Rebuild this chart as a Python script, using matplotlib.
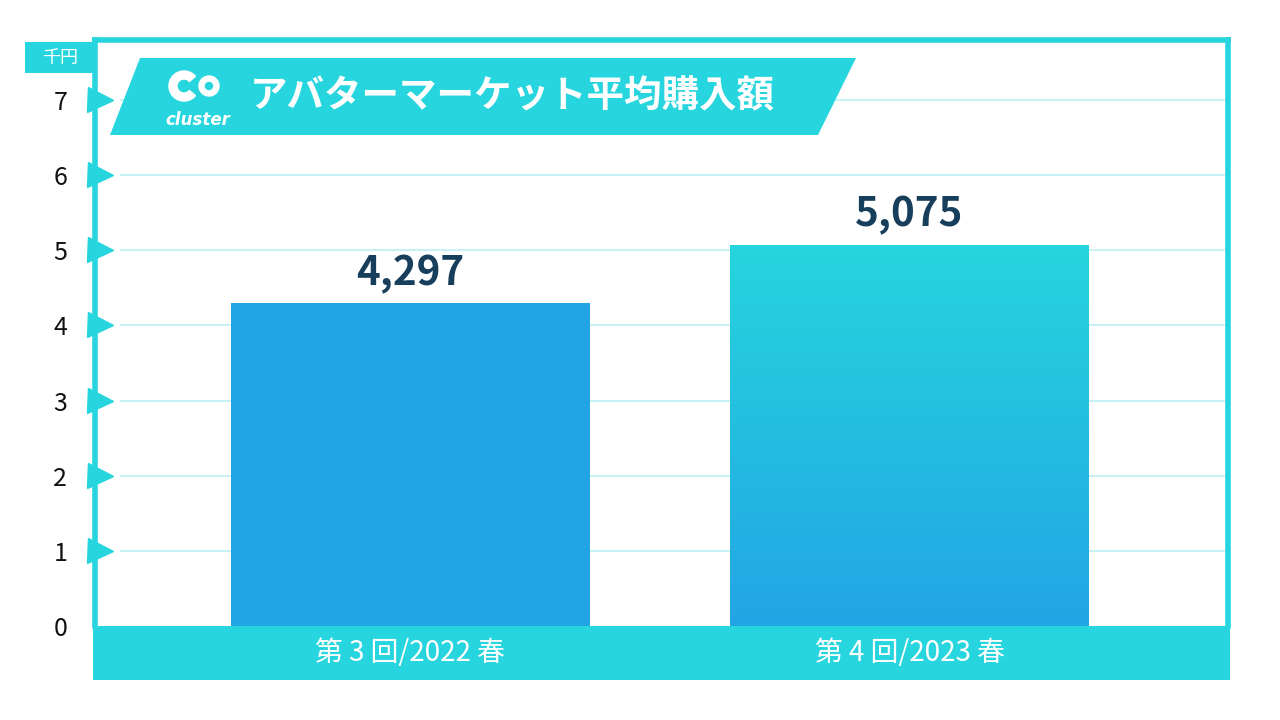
import numpy as np
import matplotlib
matplotlib.use('Agg')
import matplotlib.pyplot as plt
import matplotlib.patches as mpatches
import matplotlib.transforms as mtransforms

plt.rcParams['font.family'] = ['Noto Sans CJK JP', 'DejaVu Sans']

# data (thousand yen)
categories = ['第 3 回/2022 春', '第 4 回/2023 春']
values = [4.297, 5.075]
value_labels = ['4,297', '5,075']
yticks = [0, 1, 2, 3, 4, 5, 6, 7]
title = 'アバターマーケット平均購入額'
unit = '千円'

CYAN = '#26d5dd'
BLUE = '#22a5e5'
NAVY = '#173f5c'
GRID = '#bdeff3'

W, H = 1280, 720
fig = plt.figure(figsize=(12.8, 7.2), dpi=100)

def px(x0, y0, x1, y1):
    # pixel box (top-left origin) -> figure fraction rect
    return [x0 / W, 1 - y1 / H, (x1 - x0) / W, (y1 - y0) / H]

# main axes: frame from x=95..1228, y (data 0) at 626 px, top at 40 px
ax = fig.add_axes(px(95, 40, 1228, 626))
ymax = (626 - 40) / 75.14
ax.set_ylim(0, ymax)
xl = (95 - 410.5) / 499.0
xr = (1228 - 410.5) / 499.0
ax.set_xlim(xl, xr)
ax.spines['bottom'].set_visible(False)
for s in ['left', 'top', 'right']:
    ax.spines[s].set_color(CYAN)
    ax.spines[s].set_linewidth(4)
ax.set_xticks([])
ax.set_yticks(yticks)
ax.set_yticklabels([str(t) for t in yticks], fontsize=18, color='#111111')
ax.tick_params(axis='y', length=0, pad=20)

# gridlines
for t in yticks[1:]:
    ax.plot([xl + 26 / 499.0, xr - 4 / 499.0], [t, t], color=GRID, lw=1.2, zorder=1)

# bars
xs = np.arange(len(values))
bw = 359 / 499.0
ax.bar(xs[0], values[0], width=bw, color=BLUE, zorder=2)
bar2 = ax.bar(xs[1], values[1], width=bw, color=CYAN, zorder=2)[0]
grad = np.linspace(0, 1, 256).reshape(-1, 1)
cmap = matplotlib.colors.LinearSegmentedColormap.from_list('g', [BLUE, CYAN])
im = ax.imshow(grad, cmap=cmap, aspect='auto', origin='lower',
               extent=[xs[1] - bw / 2, xs[1] + bw / 2, 0, values[1]], zorder=3)
im.set_clip_path(bar2)
ax.set_xlim(xl, xr)
ax.set_ylim(0, ymax)

for x, v, lab in zip(xs, values, value_labels):
    ax.text(x, v + 0.12, lab, ha='center', va='bottom', fontsize=29,
            fontweight='bold', color=NAVY, zorder=4)

# tick triangles
tr = mtransforms.blended_transform_factory(ax.transAxes, ax.transData)
ax.plot([5 / 1133.0] * 7, yticks[1:], marker='>', ms=18, color=CYAN, lw=0,
        transform=tr, clip_on=False, zorder=5)

# bottom band with category labels
band = fig.add_axes(px(93, 626, 1230, 680))
band.set_xlim(xl, xr)
band.set_ylim(0, 1)
band.set_facecolor(CYAN)
for s in band.spines.values():
    s.set_visible(False)
band.set_xticks([])
band.set_yticks([])
for x, c in zip(xs, categories):
    band.text(x, 0.5, c, ha='center', va='center', fontsize=20, color='white')

# unit box
ub = fig.add_axes(px(25, 42, 95, 73))
ub.set_facecolor(CYAN)
for s in ub.spines.values():
    s.set_visible(False)
ub.set_xticks([])
ub.set_yticks([])
ub.text(0.5, 0.5, unit, ha='center', va='center', fontsize=13, color='white',
        transform=ub.transAxes)

# title banner (figure pixel coordinates)
ov = fig.add_axes([0, 0, 1, 1], facecolor='none')
ov.set_xlim(0, W)
ov.set_ylim(H, 0)
ov.axis('off')
ov.add_patch(mpatches.Polygon([(110, 135), (140, 58), (856, 58), (818, 135)],
                              closed=True, color=CYAN, lw=0))
# logo
ov.add_patch(mpatches.Wedge((184, 86), 15, 40, 320, width=8, color='white'))
ov.add_patch(mpatches.Circle((209, 86), 10, color='white'))
ov.add_patch(mpatches.Circle((209, 86), 3.5, color=CYAN))
ov.text(198, 120, 'cluster', ha='center', va='center', fontsize=12,
        fontweight='bold', style='italic', color='white', family='DejaVu Sans')
ov.text(250, 96, title, ha='left', va='center', fontsize=27,
        fontweight='bold', color='white')

fig.savefig('out.png', dpi=100)
